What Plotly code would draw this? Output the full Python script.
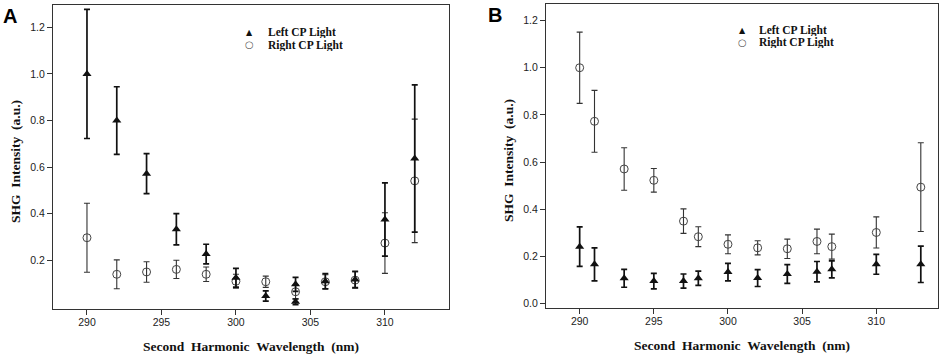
import plotly.graph_objects as go

# ---------------- data ----------------
# Panel A
xA_left = [290, 292, 294, 296, 298, 300, 302, 304, 304, 306, 308, 310, 312]
yA_left = [1.00, 0.80, 0.572, 0.333, 0.227, 0.125, 0.047, 0.097, 0.022, 0.11, 0.118, 0.375, 0.637]
eA_left = [0.277, 0.145, 0.086, 0.067, 0.042, 0.04, 0.022, 0.03, 0.012, 0.033, 0.035, 0.157, 0.316]

xA_right = [290, 292, 294, 296, 298, 300, 302, 304, 306, 308, 310, 312]
yA_right = [0.297, 0.14, 0.15, 0.161, 0.14, 0.11, 0.108, 0.065, 0.108, 0.115, 0.274, 0.541]
eA_right = [0.148, 0.062, 0.044, 0.039, 0.031, 0.03, 0.024, 0.03, 0.03, 0.035, 0.13, 0.265]

# Panel B
xB = [290, 291, 293, 295, 297, 298, 300, 302, 304, 306, 307, 310, 313]
yB_left = [0.242, 0.167, 0.108, 0.096, 0.096, 0.108, 0.134, 0.109, 0.126, 0.136, 0.146, 0.167, 0.167]
eB_left = [0.084, 0.07, 0.038, 0.033, 0.03, 0.03, 0.037, 0.036, 0.04, 0.043, 0.036, 0.042, 0.077]
yB_right = [1.0, 0.773, 0.571, 0.523, 0.35, 0.284, 0.252, 0.237, 0.233, 0.264, 0.242, 0.302, 0.494]
eB_right = [0.151, 0.131, 0.09, 0.05, 0.052, 0.042, 0.04, 0.03, 0.041, 0.052, 0.053, 0.066, 0.188]

x_ticks = [290, 295, 300, 305, 310]
yA_ticks = [0.2, 0.4, 0.6, 0.8, 1.0, 1.2]
yB_ticks = [0.0, 0.2, 0.4, 0.6, 0.8, 1.0, 1.2]

series_names = ["Left CP Light", "Right CP Light"]
x_title = "Second\u00a0\u00a0Harmonic\u00a0\u00a0Wavelength\u00a0\u00a0(nm)"
y_title = "SHG\u00a0\u00a0Intensity\u00a0\u00a0(a.u.)"

W, H = 941, 354
SERIF = "Liberation Serif, Times New Roman, serif"
SANS = "Liberation Sans, Arial, sans-serif"

fig = go.Figure()

def left_trace(x, y, e, xa, ya):
    return go.Scatter(
        x=x, y=y, mode="markers", xaxis=xa, yaxis=ya, showlegend=False,
        name=series_names[0],
        marker=dict(symbol="triangle-up", size=8, color="#111"),
        error_y=dict(type="data", array=e, visible=True, color="#111",
                     thickness=1.7, width=3),
    )

def right_trace(x, y, e, xa, ya):
    return go.Scatter(
        x=x, y=y, mode="markers", xaxis=xa, yaxis=ya, showlegend=False,
        name=series_names[1],
        marker=dict(symbol="circle-open", size=8, color="#444",
                    line=dict(width=1, color="#444")),
        error_y=dict(type="data", array=e, visible=True, color="#333",
                     thickness=1.1, width=3),
    )

fig.add_trace(right_trace(xA_right, yA_right, eA_right, "x", "y"))
fig.add_trace(left_trace(xA_left, yA_left, eA_left, "x", "y"))
fig.add_trace(right_trace(xB, yB_right, eB_right, "x2", "y2"))
fig.add_trace(left_trace(xB, yB_left, eB_left, "x2", "y2"))

def px_x(p):
    return p / W

def px_y(p):
    return 1 - p / H

ydom = [px_y(309), px_y(5)]
ydomB = [px_y(308), px_y(4)]

axis_common = dict(
    showline=True, linecolor="#333", linewidth=1.3, mirror=True,
    ticks="outside", ticklen=5, tickwidth=1.2, tickcolor="#333",
    showgrid=False, zeroline=False,
    tickfont=dict(family=SANS, size=10.5, color="#222"),
)

fig.update_layout(
    width=W, height=H, margin=dict(l=0, r=0, t=0, b=0),
    paper_bgcolor="white", plot_bgcolor="white",
    showlegend=False,
    xaxis=dict(domain=[px_x(53), px_x(449)], range=[287.72, 314.3], anchor="y",
               tickvals=x_ticks, ticklabelstandoff=-2, **axis_common),
    yaxis=dict(domain=ydom, range=[-0.009, 1.296], anchor="x",
               tickvals=yA_ticks, tickformat=".1f", **axis_common),
    xaxis2=dict(domain=[px_x(546), px_x(938)], range=[287.73, 314.16], anchor="y2",
                tickvals=x_ticks, ticklabelstandoff=-2, **axis_common),
    yaxis2=dict(domain=ydomB, range=[-0.018, 1.27], anchor="x2",
                tickvals=yB_ticks, tickformat=".1f", **axis_common),
)

title_font = dict(family=SERIF, size=13.5, color="#111")
ann = []
# axis titles
for cx, cy in [(251, 346), (742, 345)]:
    ann.append(dict(text="<b>" + x_title + "</b>", x=px_x(cx), y=px_y(cy),
                    xref="paper", yref="paper", xanchor="center", yanchor="middle",
                    showarrow=False, font=title_font))
for cx, cy in [(15, 162), (508, 160)]:
    ann.append(dict(text="<b>" + y_title + "</b>", x=px_x(cx), y=px_y(cy),
                    xref="paper", yref="paper", xanchor="center", yanchor="middle",
                    showarrow=False, textangle=-90, font=title_font))

# panel letters
ann.append(dict(text="<b>A</b>", x=px_x(1), y=px_y(3), xref="paper", yref="paper",
                xanchor="left", yanchor="top", showarrow=False,
                font=dict(family=SANS, size=20, color="#000")))
ann.append(dict(text="<b>B</b>", x=px_x(486), y=px_y(2), xref="paper", yref="paper",
                xanchor="left", yanchor="top", showarrow=False,
                font=dict(family=SANS, size=20, color="#000")))

# legends
def legend(mx, ty, tx):
    out = []
    out.append(dict(text="\u25B2", x=px_x(mx), y=px_y(ty), xref="paper", yref="paper",
                    xanchor="center", yanchor="middle", showarrow=False,
                    font=dict(family="DejaVu Sans", size=8, color="#111")))
    out.append(dict(text="\u25CB", x=px_x(mx), y=px_y(ty + 12.5), xref="paper", yref="paper",
                    xanchor="center", yanchor="middle", showarrow=False,
                    font=dict(family="DejaVu Sans", size=10, color="#555")))
    for i, name in enumerate(series_names):
        out.append(dict(text="<b>" + name + "</b>", x=px_x(tx), y=px_y(ty + 12.5 * i),
                        xref="paper", yref="paper", xanchor="left", yanchor="middle",
                        showarrow=False, height=12,
                        font=dict(family=SERIF, size=11.5, color="#111")))
    return out

ann += legend(250, 32, 266)
ann += legend(742, 30, 757)

fig.update_layout(annotations=ann)

fig.write_html(
    "out.html",
    config={"displayModeBar": False},
    post_script="document.body.style.margin='0';document.body.style.overflow='hidden';",
)
